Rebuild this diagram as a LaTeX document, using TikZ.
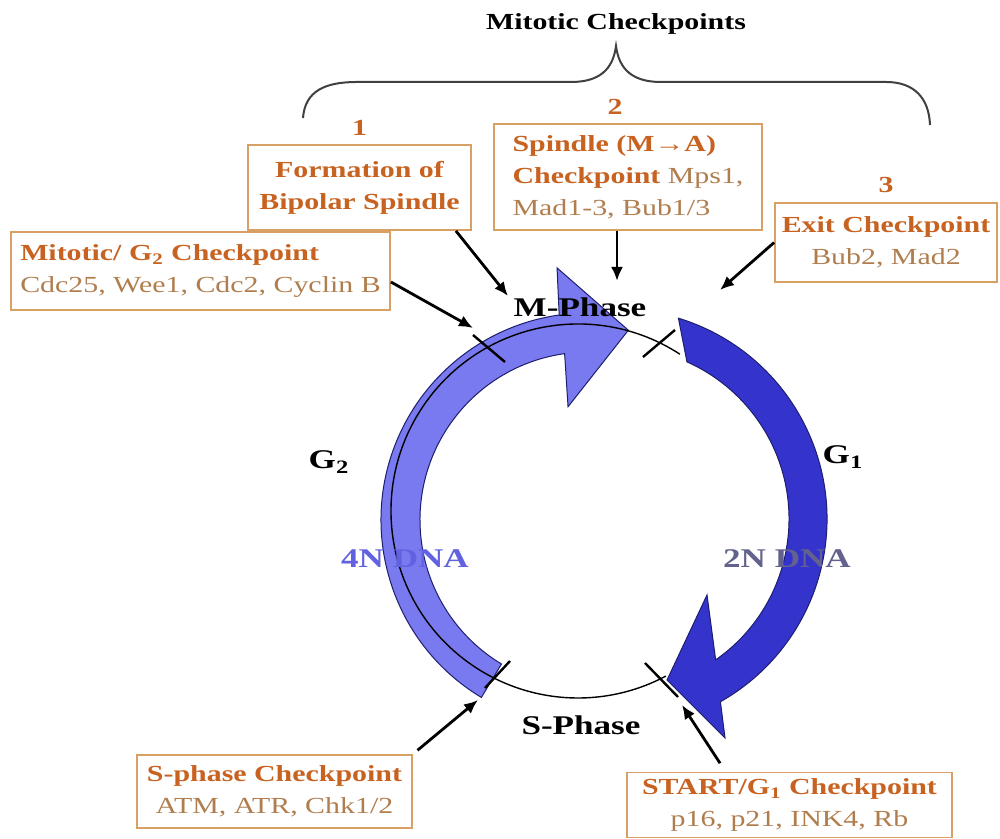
\documentclass[tikz,border=0pt]{standalone}
\usepackage{fontspec}
\setmainfont{Liberation Serif}[FakeStretch=1.3]
\usetikzlibrary{arrows.meta,positioning}

\definecolor{ckorange}{RGB}{200,98,32}
\definecolor{cktan}{RGB}{176,126,78}
\definecolor{ckline}{RGB}{216,160,100}
\definecolor{lightcyc}{RGB}{122,122,240}
\definecolor{darkcyc}{RGB}{52,52,204}
\definecolor{cycedge}{RGB}{30,30,110}
\definecolor{dnafour}{RGB}{98,98,224}
\definecolor{dnatwo}{RGB}{98,98,140}

\newcommand{\ckhead}[1]{{\bfseries\color{ckorange}#1}}

\tikzset{
  ckbox/.style={draw=ckline, line width=0.9pt, fill=white, text=cktan,
    font=\fontsize{11.5}{16}\selectfont, inner sep=3pt},
  cknum/.style={font=\fontsize{11.5}{14}\selectfont\bfseries, text=ckorange},
  ckarrow/.style={-{Latex[length=7pt,width=6pt]}, line width=1.4pt},
  phase/.style={font=\fontsize{13.5}{16}\selectfont\bfseries},
  cutmark/.style={line width=1.2pt},
}

\begin{document}
\begin{tikzpicture}[x=0.5pt,y=0.5pt]
  \useasboundingbox (0,0) rectangle (1000,839);
  \fill[white] (0,0) rectangle (1000,839);

  % centres of the cycle pieces
  \coordinate (L) at (588,319);
  \coordinate (D) at (617,320);
  \coordinate (T) at (578,328);

  % G2 arrow
  \filldraw[fill=lightcyc, draw=cycedge, line width=0.5pt]
    ([shift={(L)}]239:207) arc[start angle=239, end angle=98, radius=207]
    -- ([shift={(L)}]97:254) -- ([shift={(L)}]78:194) -- ([shift={(L)}]100:115)
    -- ([shift={(L)}]98:168) arc[start angle=98, end angle=239, radius=168] -- cycle;
  % thin cycle line
  \draw[line width=0.7pt] ([shift={(T)}]57:187) arc[start angle=57, end angle=298, radius=187];
  % G1 arrow
  \filldraw[fill=darkcyc, draw=cycedge, line width=0.5pt]
    ([shift={(D)}]73:210) arc[start angle=73, end angle=-60.5, radius=210]
    -- (725,101) -- (667,159) -- (707,244)
    -- ([shift={(D)}]-55:172) arc[start angle=-55, end angle=66, radius=172] -- cycle;

  % checkpoint marks
  \draw[cutmark] (473,504) -- (505,477);
  \draw[cutmark] (643,482) -- (675,509);
  \draw[cutmark] (485,151) -- (510,178);
  \draw[cutmark] (645,176) -- (678,142);

  % phase labels
  \node[phase] (mphase) at (580,532) {M-Phase};
  \node[phase] (sphase) at (581,114) {S-Phase};
  \node[phase] (gtwo) at (329,377) {G\textsubscript{2}};
  \node[phase] (gone) at (843,382) {G\textsubscript{1}};
  \node[phase, text=dnafour] (dnafourn) at (405,280) {4N DNA};
  \node[phase, text=dnatwo] (dnatwon) at (787,280) {2N DNA};

  % mitotic brace
  \node[font=\fontsize{11.5}{14}\selectfont\bfseries] (title) at (616,815) {Mitotic Checkpoints};
  \draw[line width=1pt, black!75] (303,721) .. controls (305,748) and (325,757) .. (357,757)
    -- (571,757) .. controls (600,757) and (613,770) .. (616,793)
    .. controls (619,770) and (632,757) .. (661,757)
    -- (886,757) .. controls (915,757) and (929,740) .. (930,714);

  % checkpoint boxes
  \node[ckbox, minimum width=111.5pt, minimum height=42.5pt, align=center] (box1) at (359.5,651.5)
    {\ckhead{Formation of}\\\ckhead{Bipolar Spindle}};
  \node[ckbox, minimum width=134pt, minimum height=53pt, align=left] (box2) at (628,662)
    {\ckhead{Spindle (M→A)}\\\ckhead{Checkpoint} Mps1,\\Mad1-3, Bub1/3};
  \node[ckbox, minimum width=111pt, minimum height=39.5pt, align=center] (box3) at (886,596.5)
    {\ckhead{Exit Checkpoint}\\Bub2, Mad2};
  \node[ckbox, minimum width=189.5pt, minimum height=39pt, align=left] (boxgtwo) at (200.5,568)
    {\ckhead{Mitotic/ G\textsubscript{2} Checkpoint}\\Cdc25, Wee1, Cdc2, Cyclin B};
  \node[ckbox, minimum width=137.5pt, minimum height=36.5pt, align=center] (boxs) at (274.5,47.5)
    {\ckhead{S-phase Checkpoint}\\ATM, ATR, Chk1/2};
  \node[ckbox, minimum width=162.5pt, minimum height=32.5pt, align=center] (boxstart) at (789.5,34)
    {\ckhead{START/G\textsubscript{1} Checkpoint}\\p16, p21, INK4, Rb};

  \node[cknum, above=1pt of box1] (num1) {1};
  \node[cknum, above=1pt of box2, xshift=-6.5pt] (num2) {2};
  \node[cknum, above=1pt of box3] (num3) {3};

  % where the arrows hit the cycle
  \coordinate (hit1) at (508,543);
  \coordinate (hit2) at (617,558);
  \coordinate (hit3) at (720,549);
  \coordinate (hitg) at (473,511);
  \coordinate (hits) at (478,139);
  \coordinate (hitst) at (682,134);

  \draw[ckarrow] ([xshift=-8pt]box1.south east) -- (hit1);
  \draw[ckarrow] ([xshift=-5.5pt]box2.south) -- (hit2);
  \draw[ckarrow] (box3.west) -- (hit3);
  \draw[ckarrow] ([yshift=-5.5pt]boxgtwo.east) -- (hitg);
  \draw[ckarrow, shorten <=3pt] (boxs.north east) -- (hits);
  \draw[ckarrow, shorten <=5pt] ([xshift=-32pt]boxstart.north) -- (hitst);
\end{tikzpicture}
\end{document}
